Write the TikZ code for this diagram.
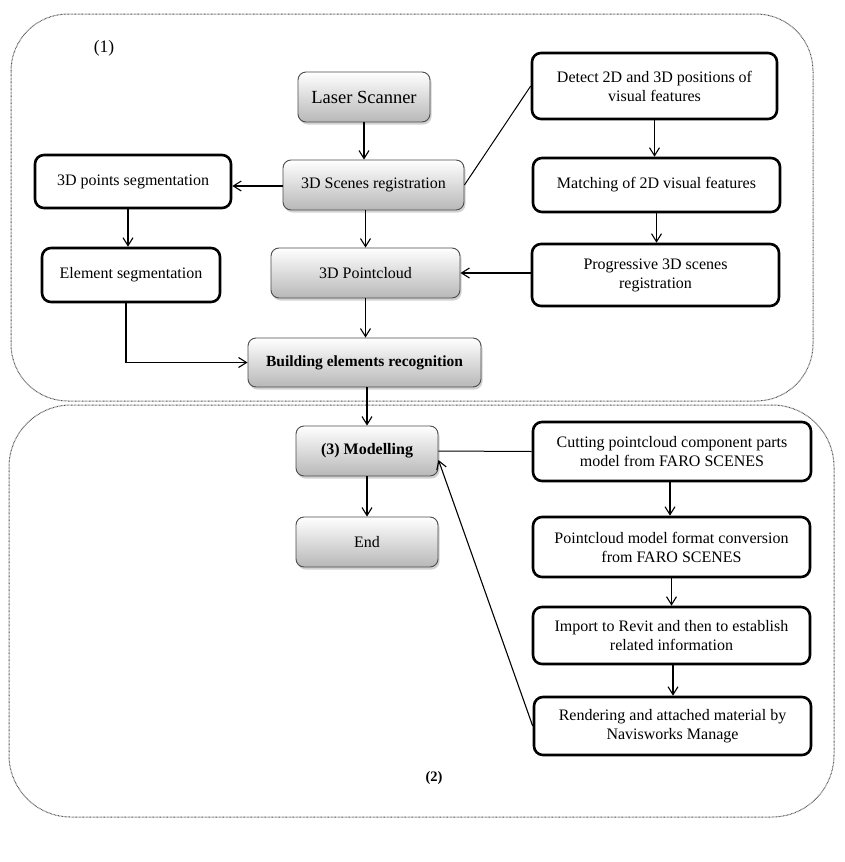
\documentclass[tikz,border=0pt]{standalone}
\usepackage{fontspec}
\setmainfont{Liberation Serif}
\usetikzlibrary{arrows.meta,shadows,calc}
\begin{document}
\begin{tikzpicture}[x=1pt,y=-1pt,
  txt/.style={font=\fontsize{16}{19}\selectfont},
  gbox/.style={draw=black!70, line width=0.9pt, rounded corners=8pt,
    top color=white, bottom color=black!28,
    drop shadow={shadow xshift=1.5pt, shadow yshift=-2.5pt, opacity=0.35},
    inner sep=0pt, align=center, txt},
  wbox/.style={draw=black, line width=2.6pt, rounded corners=9pt, fill=white,
    inner sep=0pt, align=center, txt},
  region/.style={draw=black!70, line width=1pt, dash pattern=on 0.7pt off 0.7pt},
  arr/.style={-{Straight Barb[length=8pt,width=10pt]}, line width=1.1pt},
  link/.style={line width=1pt}
]
\useasboundingbox (0,0) rectangle (845,862);
\fill[white] (0,0) rectangle (845,862);
% regions
\draw[region, rounded corners=57pt] (11,14) rectangle (813,401);
\draw[region, rounded corners=62pt] (9,405) rectangle (834,817);
\node[font=\fontsize{17.5}{20}\selectfont] (lab1) at (104,48) {(1)};
\node[font=\bfseries\fontsize{14.5}{17}\selectfont] (lab2) at (434,778) {(2)};
% part 1
\node[gbox, minimum width=132pt, minimum height=50pt, font=\fontsize{18.5}{21}\selectfont] (laser) at (364,97) {Laser Scanner};
\node[gbox, minimum width=181pt, minimum height=50pt] (scenes) at (373.5,185) {3D Scenes registration};
\node[wbox, minimum width=196pt, minimum height=53pt] (pts) at (133,181.5) {3D points segmentation};
\node[wbox, minimum width=178pt, minimum height=54pt] (elem) at (131,275) {Element segmentation};
\node[gbox, minimum width=189pt, minimum height=50pt] (pc) at (365.5,273) {3D Pointcloud};
\node[gbox, minimum width=233pt, minimum height=49pt, font=\bfseries\fontsize{15.5}{19}\selectfont] (build) at (364.5,362.5) {Building elements recognition};
\node[wbox, minimum width=245pt, minimum height=66pt] (detect) at (654.5,86) {Detect 2D and 3D positions of\\visual features};
\node[wbox, minimum width=247pt, minimum height=54pt] (match) at (656.5,185) {Matching of 2D visual features};
\node[wbox, minimum width=247pt, minimum height=62pt] (prog) at (655.5,275) {Progressive 3D scenes\\registration};
% part 2
\node[gbox, minimum width=142pt, minimum height=50pt, font=\bfseries\fontsize{16}{19}\selectfont] (model) at (367,451) {(3) Modelling};
\node[gbox, minimum width=142pt, minimum height=50pt] (end) at (367,542) {End};
\node[wbox, minimum width=278pt, minimum height=59pt] (cut) at (672,451.5) {Cutting pointcloud component parts\\model from FARO SCENES};
\node[wbox, minimum width=277pt, minimum height=60pt] (conv) at (671.5,547) {Pointcloud model format conversion\\from FARO SCENES};
\node[wbox, minimum width=277pt, minimum height=57pt] (imp) at (671.5,635.5) {Import to Revit and then to establish\\related information};
\node[wbox, minimum width=277pt, minimum height=58pt] (rend) at (672.5,726) {Rendering and attached material by\\Navisworks Manage};
% connectors part 1
\draw[arr] (laser.south) -- (laser.south |- scenes.north);
\draw[arr] (scenes.west |- 0,186) -- (pts.east |- 0,186);
\draw[arr] (scenes.south -| pc.north) -- (pc.north);
\draw[arr] ([xshift=-5pt]pts.south) -- ([xshift=-5pt]pts.south |- elem.north);
\draw[arr] ([xshift=-5pt]elem.south) |- (build.west);
\draw[arr] (pc.south) -- (pc.south |- build.north);
\draw[arr] (detect.south) -- (detect.south |- match.north);
\draw[arr] (match.south) -- (match.south |- prog.north);
\draw[arr] (prog.west |- pc.east) -- (pc.east);
\draw[link] (scenes.east) -- (detect.west);
% connectors part 2
\draw[arr] (build.south -| model.north) -- (model.north);
\draw[arr] (model.south) -- (end.north);
\draw[link] (cut.west) -- (model.east);
\draw[arr] ([xshift=-2pt]cut.south) -- ([xshift=-2pt]cut.south |- conv.north);
\draw[arr] (conv.south) -- (conv.south |- imp.north);
\draw[arr] ([xshift=1.5pt]imp.south) -- ([xshift=1.5pt]imp.south |- rend.north);
\draw[arr] (rend.west) -- ([yshift=-9pt]model.east);
\end{tikzpicture}
\end{document}
